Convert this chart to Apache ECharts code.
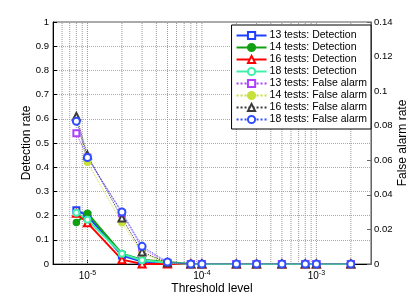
<!DOCTYPE html>
<html><head><meta charset="utf-8">
<script src="https://cdn.jsdelivr.net/npm/echarts@6/dist/echarts.min.js"></script>
<style>html,body{margin:0;padding:0;background:#fff}#c{width:409px;height:298px}</style>
</head><body><div id="c"></div>
<script>
const thresholds = [8e-6,1e-5,2e-5,3e-5,5e-5,8e-5,1e-4,2e-4,3e-4,5e-4,8e-4,1e-3,2e-3];
const det13 = [0.222,0.200,0.035,0.010,0.004,0,0,0,0,0,0,0,0];
const det14 = [0.172,0.210,0.043,0.018,0.008,0,0,0,0,0,0,0,0];
const det16 = [0.210,0.170,0.018,0.000,0.000,0,0,0,0,0,0,0,0];
const det18 = [0.212,0.183,0.042,0.015,0.005,0,0,0,0,0,0,0,0];
const fa13 = [0.0756,0.0616,0.0294,0.0091,0.0007,0,0,0,0,0,0,0,0];
const fa14 = [0.0840,0.0588,0.0238,0.0063,0.0004,0,0,0,0,0,0,0,0];
const fa16 = [0.0854,0.0630,0.0266,0.0070,0.0007,0,0,0,0,0,0,0,0];
const fa18 = [0.0826,0.0616,0.0301,0.0102,0.0011,0,0,0,0,0,0,0,0];
const seriesNames = ['13 tests: Detection','14 tests: Detection','16 tests: Detection','18 tests: Detection',
  '13 tests: False alarm','14 tests: False alarm','16 tests: False alarm','18 tests: False alarm'];
const xGrid = [6e-6,7e-6,8e-6,9e-6,1e-5,2e-5,3e-5,4e-5,5e-5,6e-5,7e-5,8e-5,9e-5,1e-4,2e-4,3e-4,4e-4,5e-4,6e-4,7e-4,8e-4,9e-4,1e-3,2e-3];

const font = 'Liberation Sans';
function pairs(ys){ return thresholds.map((x,i)=>[x,ys[i]]); }
function mk(name, ys, color, symbol, size, dotted, yIdx){
  return {
    name, type:'line', yAxisIndex:yIdx, data:pairs(ys),
    symbol, symbolSize:size, showSymbol:true,
    lineStyle:{color, width: dotted?1:2, type: dotted?'dotted':'solid'},
    itemStyle:{color, borderColor:color, borderWidth:1.5},
    emphasis:{disabled:true}, animation:false, z: dotted?4:3
  };
}
const gridData = [];
xGrid.forEach(v=>{ gridData.push([v,0],[v,1],[v,null]); });
const gridSeries = {
  name:'vgrid', type:'line', yAxisIndex:0, data:gridData, symbol:'none', showSymbol:false,
  connectNulls:false, silent:true, z:1, animation:false,
  lineStyle:{type:'dotted', color:'#999', width:1}, emphasis:{disabled:true}
};
const chart = echarts.init(document.getElementById('c'), null, {renderer:'canvas'});
chart.setOption({
  animation:false,
  textStyle:{fontFamily:font},
  grid:{left:53, right:38, top:22, bottom:34, outerBoundsMode:'none', containLabel:false,
        show:true, borderColor:'#555', borderWidth:1, backgroundColor:'transparent'},
  legend:{
    data:seriesNames, orient:'vertical', right:38, top:25,
    itemWidth:30, itemHeight:9, itemGap:1,
    backgroundColor:'#fff', borderColor:'#000', borderWidth:1, borderRadius:0,
    padding:[5,4,4,4],
    textStyle:{fontFamily:font, fontSize:10.5, lineHeight:11, color:'#000', padding:[0,0,0,-2]}
  },
  xAxis:{
    type:'log', logBase:10, min:5e-6, max:3e-3,
    name:'Threshold level', nameLocation:'middle', nameGap:19, nameMoveOverlap:false,
    nameTextStyle:{fontFamily:font, fontSize:12, color:'#000'},
    axisLine:{lineStyle:{color:'#000', width:1}},
    axisTick:{inside:true, length:4, lineStyle:{color:'#000'}},
    splitLine:{show:false},
    axisLabel:{
      showMinLabel:false, showMaxLabel:false, margin:6,
      formatter:function(v){
        const e = Math.log10(v);
        if (Math.abs(e-Math.round(e))>1e-6) return '';
        return '{b|10}{s|' + Math.round(e) + '}';
      },
      rich:{
        b:{fontFamily:font, fontSize:10, color:'#000'},
        s:{fontFamily:font, fontSize:7, color:'#000', verticalAlign:'top', padding:[0,0,6,0]}
      }
    }
  },
  yAxis:[{
    type:'value', min:0, max:1, interval:0.1,
    name:'Detection rate', nameLocation:'middle', nameGap:20, nameMoveOverlap:false,
    nameTextStyle:{fontFamily:font, fontSize:12, color:'#000'},
    axisLine:{show:true, lineStyle:{color:'#000'}},
    axisTick:{show:true, inside:true, length:4, lineStyle:{color:'#000'}},
    axisLabel:{fontFamily:font, fontSize:9.5, color:'#000', margin:4, formatter:v=>+v.toFixed(1)+''},
    splitLine:{show:true, lineStyle:{type:'dotted', color:'#aaa', width:1}}
  },{
    type:'value', min:0, max:0.14, interval:0.02, position:'right',
    name:'False alarm rate', nameLocation:'middle', nameGap:26, nameRotate:90, nameMoveOverlap:false,
    nameTextStyle:{fontFamily:font, fontSize:12, color:'#000'},
    axisLine:{show:true, lineStyle:{color:'#666'}},
    axisTick:{show:true, inside:true, length:4, lineStyle:{color:'#666'}},
    axisLabel:{fontFamily:font, fontSize:9.5, color:'#000', margin:3, formatter:v=>+v.toFixed(2)+''},
    splitLine:{show:false}
  }],
  series:[
    gridSeries,
    mk(seriesNames[0], det13, '#1f3fff', 'emptyRect', 6, false, 0),
    mk(seriesNames[1], det14, '#12a012', 'circle', 6, false, 0),
    mk(seriesNames[2], det16, '#ff0000', 'emptyTriangle', 7, false, 0),
    mk(seriesNames[3], det18, '#40f0a8', 'emptyCircle', 6, false, 0),
    mk(seriesNames[4], fa13, '#b040ff', 'emptyRect', 6, true, 1),
    mk(seriesNames[5], fa14, '#c8e03c', 'circle', 6, true, 1),
    mk(seriesNames[6], fa16, '#3a3a3a', 'emptyTriangle', 7, true, 1),
    mk(seriesNames[7], fa18, '#3050ff', 'emptyCircle', 7, true, 1)
  ]
});
</script></body></html>
